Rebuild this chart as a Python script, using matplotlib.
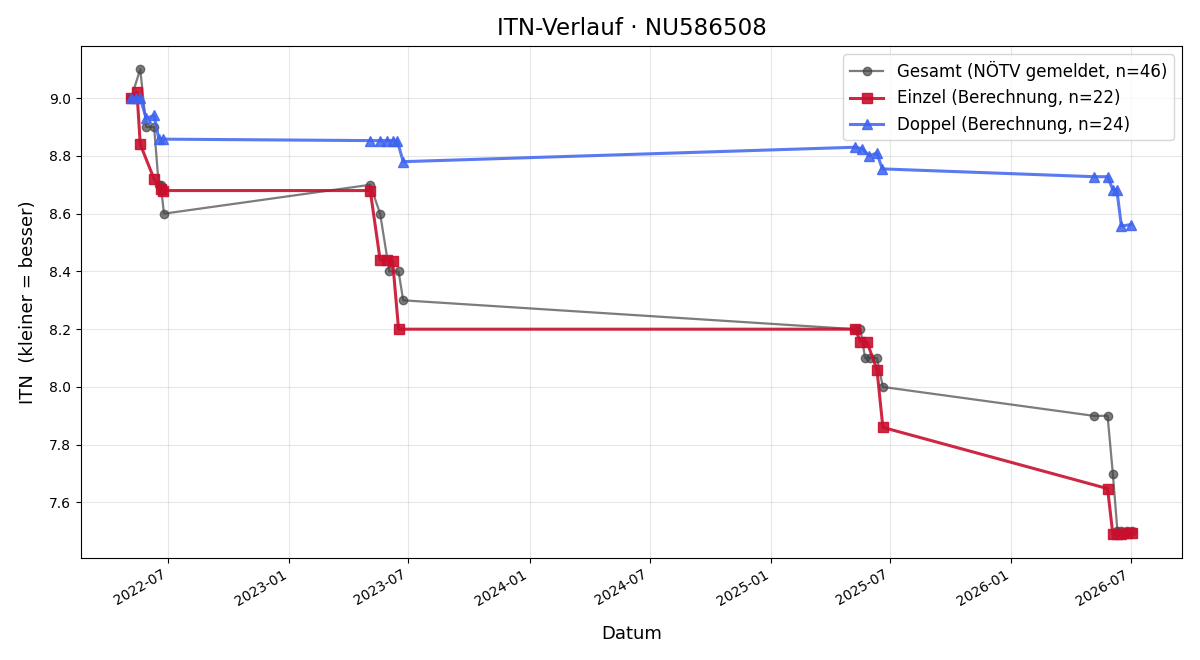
import matplotlib
matplotlib.use("Agg")
import matplotlib.pyplot as plt
import matplotlib.dates as mdates
import pandas as pd

title = "ITN-Verlauf · NU586508"

gesamt_dates = ["2022-05-06", "2022-05-20", "2022-05-29", "2022-06-10", "2022-06-17", "2022-06-20",
                "2022-06-25", "2023-05-04", "2023-05-19", "2023-06-02", "2023-06-16", "2023-06-23",
                "2025-05-09", "2025-05-17", "2025-05-24", "2025-06-01", "2025-06-11", "2025-06-20",
                "2026-05-06", "2026-05-27", "2026-06-04", "2026-06-11", "2026-06-17", "2026-06-26",
                "2026-07-03"]
gesamt_vals = [9.0, 9.1, 8.9, 8.9, 8.7, 8.7,
               8.6, 8.7, 8.6, 8.4, 8.4, 8.3,
               8.2, 8.2, 8.1, 8.1, 8.1, 8.0,
               7.9, 7.9, 7.7, 7.5, 7.5, 7.5,
               7.5]

einzel_dates = ["2022-05-06", "2022-05-15", "2022-05-20", "2022-06-10", "2022-06-20", "2022-06-24",
                "2023-05-04", "2023-05-19", "2023-05-30", "2023-06-07", "2023-06-16",
                "2025-05-09", "2025-05-17", "2025-05-27", "2025-06-11", "2025-06-20",
                "2026-05-27", "2026-06-04", "2026-06-10", "2026-06-17", "2026-06-26", "2026-07-03"]
einzel_vals = [9.00, 9.02, 8.84, 8.72, 8.685, 8.68,
               8.68, 8.44, 8.44, 8.435, 8.20,
               8.20, 8.157, 8.155, 8.06, 7.86,
               7.648, 7.49, 7.49, 7.492, 7.493, 7.495]

doppel_dates = ["2022-05-06", "2022-05-13", "2022-05-20", "2022-05-29", "2022-06-10", "2022-06-17", "2022-06-23",
                "2023-05-04", "2023-05-19", "2023-05-30", "2023-06-07", "2023-06-14", "2023-06-23",
                "2025-05-09", "2025-05-20", "2025-05-30", "2025-06-11", "2025-06-19",
                "2026-05-06", "2026-05-27", "2026-06-04", "2026-06-10", "2026-06-17", "2026-07-01"]
doppel_vals = [9.00, 9.00, 9.00, 8.93, 8.94, 8.86, 8.858,
               8.853, 8.853, 8.853, 8.853, 8.853, 8.78,
               8.83, 8.825, 8.80, 8.81, 8.755,
               8.728, 8.728, 8.683, 8.683, 8.557, 8.562]

labels = ["Gesamt (NÖTV gemeldet, n=46)", "Einzel (Berechnung, n=22)", "Doppel (Berechnung, n=24)"]

fig, ax = plt.subplots(figsize=(12, 6.6), dpi=100)
ax.plot(pd.to_datetime(gesamt_dates), gesamt_vals, color="#444444", alpha=0.7, lw=1.6,
        marker="o", ms=6, label=labels[0], zorder=2)
ax.plot(pd.to_datetime(einzel_dates), einzel_vals, color="#C8102E", alpha=0.9, lw=2.2,
        marker="s", ms=7.5, label=labels[1], zorder=3)
ax.plot(pd.to_datetime(doppel_dates), doppel_vals, color="#3D63F0", alpha=0.85, lw=2.2,
        marker="^", ms=7.5, label=labels[2], zorder=4)

ax.set_title(title, fontsize=16.6, pad=8)
ax.set_xlabel("Datum", fontsize=13, labelpad=12)
ax.set_ylabel("ITN  (kleiner = besser)", fontsize=13, labelpad=9)
ax.grid(True, alpha=0.3)
ax.xaxis.set_major_locator(mdates.MonthLocator(bymonth=[1, 7]))
ax.xaxis.set_major_formatter(mdates.DateFormatter("%Y-%m"))
ax.legend(loc="upper right", fontsize=12)
fig.autofmt_xdate()
fig.subplots_adjust(left=0.0675, right=0.985, top=0.9303, bottom=0.1553)
fig.savefig("out.png", dpi=100)
